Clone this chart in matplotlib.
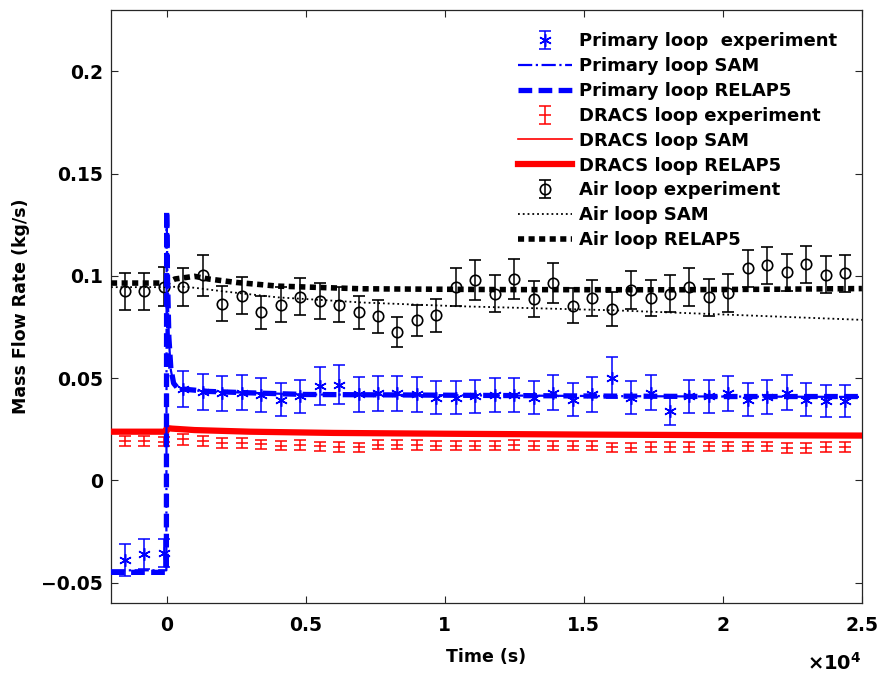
import matplotlib

matplotlib.use("Agg")
import matplotlib.pyplot as plt
from matplotlib.ticker import FuncFormatter

plt.rcParams["font.family"] = ["DejaVu Sans"]
plt.rcParams["font.weight"] = "bold"

# experiment sample times (s)
t_exp = [-1500, -800, -100, 600, 1300, 2000, 2700, 3400, 4100, 4800,
         5500, 6200, 6900, 7600, 8300, 9000, 9700, 10400, 11100, 11800,
         12500, 13200, 13900, 14600, 15300, 16000, 16700, 17400, 18100, 18800,
         19500, 20200, 20900, 21600, 22300, 23000, 23700, 24400]

primary_exp = [-0.0390, -0.0360, -0.0355, 0.0447, 0.0433, 0.0425, 0.0428, 0.0416, 0.0395, 0.0411,
               0.0460, 0.0468, 0.0420, 0.0425, 0.0425, 0.0420, 0.0404, 0.0404, 0.0411, 0.0416,
               0.0416, 0.0404, 0.0428, 0.0395, 0.0420, 0.0501, 0.0404, 0.0428, 0.0338, 0.0411,
               0.0411, 0.0425, 0.0395, 0.0408, 0.0428, 0.0395, 0.0387, 0.0387]
primary_err = [0.0080, 0.0072, 0.0070, 0.0088, 0.0087, 0.0085, 0.0086, 0.0083, 0.0079, 0.0082,
               0.0092, 0.0094, 0.0084, 0.0085, 0.0085, 0.0084, 0.0081, 0.0081, 0.0082, 0.0083,
               0.0083, 0.0081, 0.0086, 0.0079, 0.0084, 0.0100, 0.0081, 0.0086, 0.0068, 0.0082,
               0.0082, 0.0085, 0.0079, 0.0082, 0.0086, 0.0079, 0.0077, 0.0077]

dracs_exp = [0.0192, 0.0192, 0.0190, 0.0200, 0.0192, 0.0184, 0.0184, 0.0176, 0.0170, 0.0172,
             0.0166, 0.0164, 0.0162, 0.0174, 0.0174, 0.0172, 0.0170, 0.0170, 0.0170, 0.0170,
             0.0172, 0.0170, 0.0170, 0.0170, 0.0170, 0.0162, 0.0160, 0.0164, 0.0164, 0.0164,
             0.0166, 0.0166, 0.0166, 0.0166, 0.0158, 0.0158, 0.0164, 0.0164]
dracs_err = [0.0024, 0.0024, 0.0024, 0.0025, 0.0024, 0.0024, 0.0024, 0.0023, 0.0023, 0.0023,
             0.0023, 0.0023, 0.0023, 0.0023, 0.0023, 0.0023, 0.0023, 0.0023, 0.0023, 0.0023,
             0.0023, 0.0023, 0.0023, 0.0023, 0.0023, 0.0023, 0.0023, 0.0023, 0.0023, 0.0023,
             0.0023, 0.0023, 0.0023, 0.0023, 0.0023, 0.0023, 0.0023, 0.0023]

air_exp = [0.0924, 0.0924, 0.0948, 0.0945, 0.1002, 0.0864, 0.0903, 0.0821, 0.0859, 0.0899,
           0.0878, 0.0859, 0.0821, 0.0802, 0.0726, 0.0782, 0.0807, 0.0945, 0.0981, 0.0913,
           0.0986, 0.0888, 0.0965, 0.0854, 0.0892, 0.0839, 0.0932, 0.0892, 0.0913, 0.0945,
           0.0896, 0.0916, 0.1038, 0.1051, 0.1018, 0.1057, 0.1005, 0.1013]
air_err = [0.0092, 0.0092, 0.0095, 0.0094, 0.0100, 0.0086, 0.0090, 0.0082, 0.0086, 0.0090,
           0.0088, 0.0086, 0.0082, 0.0080, 0.0073, 0.0078, 0.0081, 0.0094, 0.0098, 0.0091,
           0.0099, 0.0089, 0.0096, 0.0085, 0.0089, 0.0084, 0.0093, 0.0089, 0.0091, 0.0094,
           0.0090, 0.0092, 0.0090, 0.0090, 0.0090, 0.0090, 0.0090, 0.0090]

# simulation curves
t_pri = [-2000, -10, 0, 30, 80, 150, 250, 400, 700, 1500, 3000, 5000, 8000, 12000, 16000, 20000, 25000]
primary_sam = [-0.0440, -0.0440, 0.1300, 0.0980, 0.0690, 0.0540, 0.0470, 0.0450, 0.0442, 0.0435,
               0.0428, 0.0420, 0.0418, 0.0415, 0.0412, 0.0410, 0.0408]
primary_relap = [-0.0450, -0.0450, 0.1320, 0.1000, 0.0700, 0.0550, 0.0475, 0.0450, 0.0445, 0.0435,
                 0.0428, 0.0420, 0.0418, 0.0415, 0.0412, 0.0410, 0.0410]

t_dracs = [-2000, -10, 0, 200, 1000, 3000, 6000, 10000, 15000, 20000, 25000]
dracs_sam = [0.0235, 0.0235, 0.0252, 0.0250, 0.0244, 0.0237, 0.0231, 0.0227, 0.0223, 0.0220, 0.0218]
dracs_relap = [0.0238, 0.0238, 0.0256, 0.0253, 0.0246, 0.0238, 0.0232, 0.0228, 0.0224, 0.0221, 0.0219]

t_air = [-2000, 0, 300, 1000, 1500, 2500, 4000, 7000, 12000, 18000, 22000, 25000]
air_relap = [0.0965, 0.0965, 0.0985, 0.0998, 0.0985, 0.0968, 0.0950, 0.0937, 0.0933, 0.0932, 0.0935, 0.0938]
t_air_sam = [-2000, 0, 500, 1000, 2000, 4000, 6200, 7000, 10400, 16000, 16800, 20650, 25000]
air_sam = [0.0945, 0.0945, 0.0948, 0.0942, 0.0925, 0.0895, 0.0877, 0.0870, 0.0852, 0.0832, 0.0828, 0.0808, 0.0785]

fig = plt.figure(figsize=(8.84, 6.74), dpi=100)
ax = fig.add_axes([0.1256, 0.1053, 0.8494, 0.8797])

blue, red = "#0000ff", "#ff0000"

h1 = ax.errorbar(t_exp, primary_exp, yerr=primary_err, linestyle="none", marker=(6, 2, 0),
                 markersize=9, mew=1.1, color=blue, ecolor=blue, elinewidth=1.1,
                 capsize=4.5, capthick=1.1, zorder=3)
h2, = ax.plot(t_pri, primary_sam, color=blue, lw=1.6, linestyle="-.", zorder=6)
h3, = ax.plot(t_pri, primary_relap, color=blue, lw=3.8, dashes=(2.6, 1.2), zorder=6)

h4 = ax.errorbar(t_exp, dracs_exp, yerr=dracs_err, fmt="_", color=red, markersize=8, mew=1.1,
                 elinewidth=1.1, capsize=4, capthick=1.1, zorder=3)
h5, = ax.plot(t_dracs, dracs_sam, color=red, lw=1.2, zorder=4)
h6, = ax.plot(t_dracs, dracs_relap, color=red, lw=4.5, zorder=4)

h7 = ax.errorbar(t_exp, air_exp, yerr=air_err, fmt="o", color="black", mfc="none", markersize=7.5,
                 mew=1.2, elinewidth=1.1, capsize=4.5, capthick=1.1, zorder=3)
h8, = ax.plot(t_air_sam, air_sam, color="black", lw=1.3, linestyle=":", zorder=4)
h9, = ax.plot(t_air, air_relap, color="black", lw=4, dashes=(1.1, 0.8), zorder=4)

ax.legend([h1, h2, h3, h4, h5, h6, h7, h8, h9],
          ["Primary loop  experiment", "Primary loop SAM", "Primary loop RELAP5",
           "DRACS loop experiment", "DRACS loop SAM", "DRACS loop RELAP5",
           "Air loop experiment", "Air loop SAM", "Air loop RELAP5"],
          loc="upper right", bbox_to_anchor=(0.988, 0.99), frameon=False,
          prop={"size": 13, "weight": "bold"}, handlelength=3.0, handletextpad=0.35,
          labelspacing=0.38)

ax.set_xlim(-2000, 25000)
ax.set_ylim(-0.06, 0.23)
ax.set_xticks([0, 5000, 10000, 15000, 20000, 25000])
ax.set_yticks([-0.05, 0, 0.05, 0.1, 0.15, 0.2])
ax.xaxis.set_major_formatter(FuncFormatter(lambda v, p: f"{v / 1e4:g}"))
ax.yaxis.set_major_formatter(FuncFormatter(lambda v, p: f"{v:g}".replace("-", "\u2212")))
ax.tick_params(direction="in", length=5, width=0.8, top=True, right=True,
               labelsize=13.5, color="#262626")
ax.tick_params(axis="x", pad=9)
ax.tick_params(axis="y", pad=6)
for lab in ax.get_xticklabels() + ax.get_yticklabels():
    lab.set_fontweight("bold")
for s in ax.spines.values():
    s.set_color("#262626")
    s.set_linewidth(0.9)

ax.set_xlabel("Time (s)", fontsize=12.5, fontweight="bold", labelpad=10)
ax.set_ylabel("Mass Flow Rate (kg/s)", fontsize=12.5, fontweight="bold", labelpad=8)
ax.text(1.0, -0.082, r"$\times\mathbf{10^{4}}$", transform=ax.transAxes, ha="right", va="top",
        fontsize=14)

fig.savefig("out.png", dpi=100)
